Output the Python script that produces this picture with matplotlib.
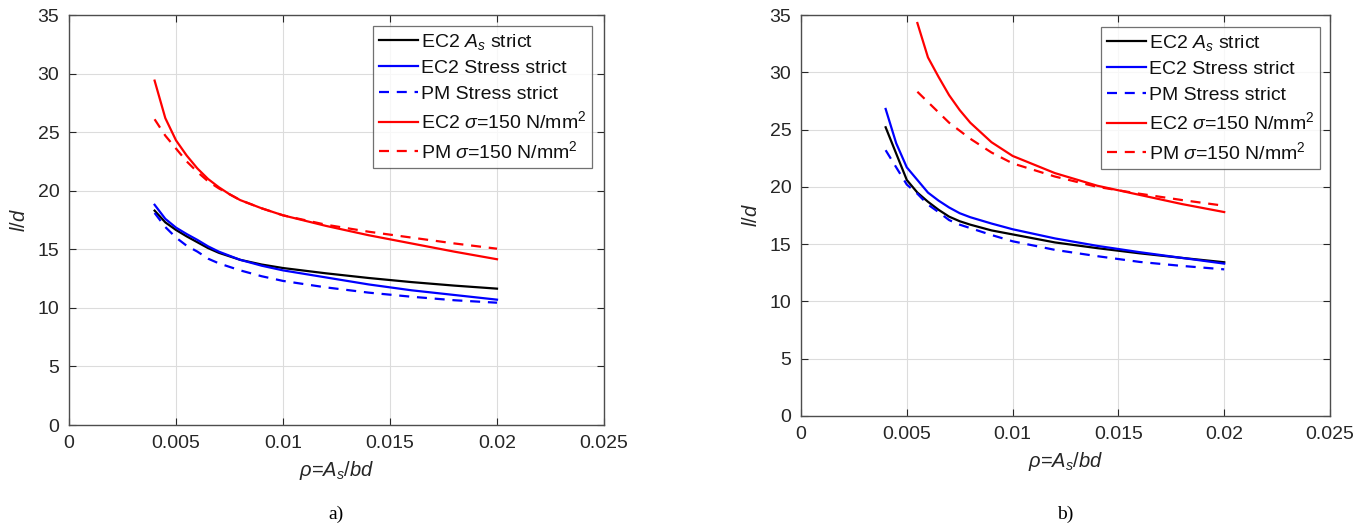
import matplotlib
matplotlib.use('Agg')
import matplotlib.pyplot as plt

# ratio de armadura (eje x)
rho = [0.004, 0.0045, 0.005, 0.0055, 0.006, 0.0065, 0.007, 0.0075, 0.008,
       0.009, 0.010, 0.012, 0.014, 0.016, 0.018, 0.020]

# panel a)
ec2_as_a = [18.3, 17.3, 16.65, 16.1, 15.6, 15.1, 14.7, 14.4, 14.1, 13.7, 13.4, 12.95, 12.55, 12.2, 11.9, 11.64]
ec2_stress_a = [18.8, 17.6, 16.85, 16.3, 15.8, 15.25, 14.8, 14.45, 14.1, 13.6, 13.2, 12.6, 12.0, 11.5, 11.1, 10.7]
pm_stress_a = [18.1, 16.9, 16.0, 15.3, 14.8, 14.2, 13.8, 13.5, 13.2, 12.7, 12.3, 11.75, 11.3, 10.95, 10.65, 10.44]
ec2_150_a = [29.4, 26.2, 24.3, 23.0, 21.9, 21.0, 20.3, 19.7, 19.2, 18.5, 17.9, 17.0, 16.2, 15.5, 14.8, 14.15]
pm_150_a = [26.1, 24.7, 23.6, 22.5, 21.6, 20.8, 20.2, 19.7, 19.2, 18.5, 17.9, 17.1, 16.5, 16.0, 15.5, 15.05]

# panel b)
ec2_as_b = [25.2, 22.9, 20.6, 19.5, 18.7, 18.0, 17.4, 17.0, 16.7, 16.2, 15.85, 15.15, 14.65, 14.2, 13.8, 13.42]
ec2_stress_b = [26.8, 23.8, 21.7, 20.6, 19.5, 18.8, 18.2, 17.7, 17.35, 16.8, 16.3, 15.5, 14.85, 14.3, 13.8, 13.3]
pm_stress_b = [23.2, 21.7, 20.2, 19.4, 18.45, 17.8, 17.1, 16.7, 16.4, 15.8, 15.25, 14.5, 13.95, 13.45, 13.1, 12.8]
rho_b150 = [0.0055, 0.006, 0.0065, 0.007, 0.0075, 0.008, 0.009, 0.010, 0.012, 0.014, 0.016, 0.018, 0.020]
ec2_150_b = [34.3, 31.3, 29.6, 28.0, 26.7, 25.6, 23.9, 22.7, 21.2, 20.1, 19.3, 18.5, 17.8]
pm_150_b = [28.3, 27.4, 26.5, 25.6, 24.9, 24.2, 23.0, 22.05, 20.9, 20.0, 19.4, 18.85, 18.35]

xticks = [0, 0.005, 0.01, 0.015, 0.02, 0.025]
xtick_labels = ['0', '0.005', '0.01', '0.015', '0.02', '0.025']
yticks = [0, 5, 10, 15, 20, 25, 30, 35]

plt.rcParams['font.family'] = ['Liberation Sans', 'DejaVu Sans']
plt.rcParams['mathtext.fontset'] = 'custom'
plt.rcParams['mathtext.rm'] = 'Liberation Sans'
plt.rcParams['mathtext.it'] = 'Liberation Sans:italic'
plt.rcParams['mathtext.bf'] = 'Liberation Sans:bold'

gris = '#262626'
W, H = 1370, 528
fig = plt.figure(figsize=(W / 100, H / 100), dpi=100)

def caja(x0, x1, y0, y1):
    return [x0 / W, 1 - y1 / H, (x1 - x0) / W, (y1 - y0) / H]

def panel(ax, series, leyenda_box):
    for x, y, color, ls, label in series:
        if ls == '--':
            ax.plot(x, y, color=color, linewidth=1.6, label=label, dashes=(4.5, 3.5))
        else:
            ax.plot(x, y, color=color, linewidth=1.6, label=label)
    ax.set_xlim(0, 0.025)
    ax.set_ylim(0, 35)
    ax.set_xticks(xticks)
    ax.set_xticklabels(xtick_labels)
    ax.set_yticks(yticks)
    ax.grid(True, color='#dcdcdc', linewidth=0.8)
    ax.set_axisbelow(True)
    ax.tick_params(direction='in', top=True, right=True, length=5, width=0.8,
                   colors=gris, labelsize=14, pad=7)
    for s in ax.spines.values():
        s.set_color('#4d4d4d')
        s.set_linewidth(1.0)
    ax.set_xlabel(r'$\rho$=$A_s$/$bd$', fontsize=14.5, color=gris, labelpad=5)
    ax.set_ylabel(r'$l/d$', fontsize=14.5, color=gris, labelpad=6)
    leg = ax.legend(loc='upper right', bbox_to_anchor=leyenda_box, fontsize=14,
                    frameon=True, fancybox=False, edgecolor='#4d4d4d',
                    handlelength=2.0, handletextpad=0.15, labelspacing=0.4,
                    borderpad=0.3, borderaxespad=0)
    leg.get_frame().set_linewidth(0.9)
    for t in leg.get_texts():
        t.set_color('#111111')

etiquetas = ['EC2 $A_s$ strict', 'EC2 Stress strict', 'PM Stress strict',
             'EC2 $\\sigma$=150 N/mm$^2$', 'PM $\\sigma$=150 N/mm$^2$']

ax1 = fig.add_axes(caja(69, 604, 15, 425))
panel(ax1, [
    (rho, ec2_as_a, 'black', '-', etiquetas[0]),
    (rho, ec2_stress_a, 'blue', '-', etiquetas[1]),
    (rho, pm_stress_a, 'blue', '--', etiquetas[2]),
    (rho, ec2_150_a, 'red', '-', etiquetas[3]),
    (rho, pm_150_a, 'red', '--', etiquetas[4]),
], (0.978, 0.973))

ax2 = fig.add_axes(caja(801, 1330, 15, 416))
panel(ax2, [
    (rho, ec2_as_b, 'black', '-', etiquetas[0]),
    (rho, ec2_stress_b, 'blue', '-', etiquetas[1]),
    (rho, pm_stress_b, 'blue', '--', etiquetas[2]),
    (rho_b150, ec2_150_b, 'red', '-', etiquetas[3]),
    (rho_b150, pm_150_b, 'red', '--', etiquetas[4]),
], (0.981, 0.970))

fig.text(336 / W, 1 - 514 / H, 'a)', ha='center', va='center', fontsize=14,
         family='Liberation Serif')
fig.text(1065 / W, 1 - 514 / H, 'b)', ha='center', va='center', fontsize=14,
         family='Liberation Serif')

fig.savefig('out.png', dpi=100)
